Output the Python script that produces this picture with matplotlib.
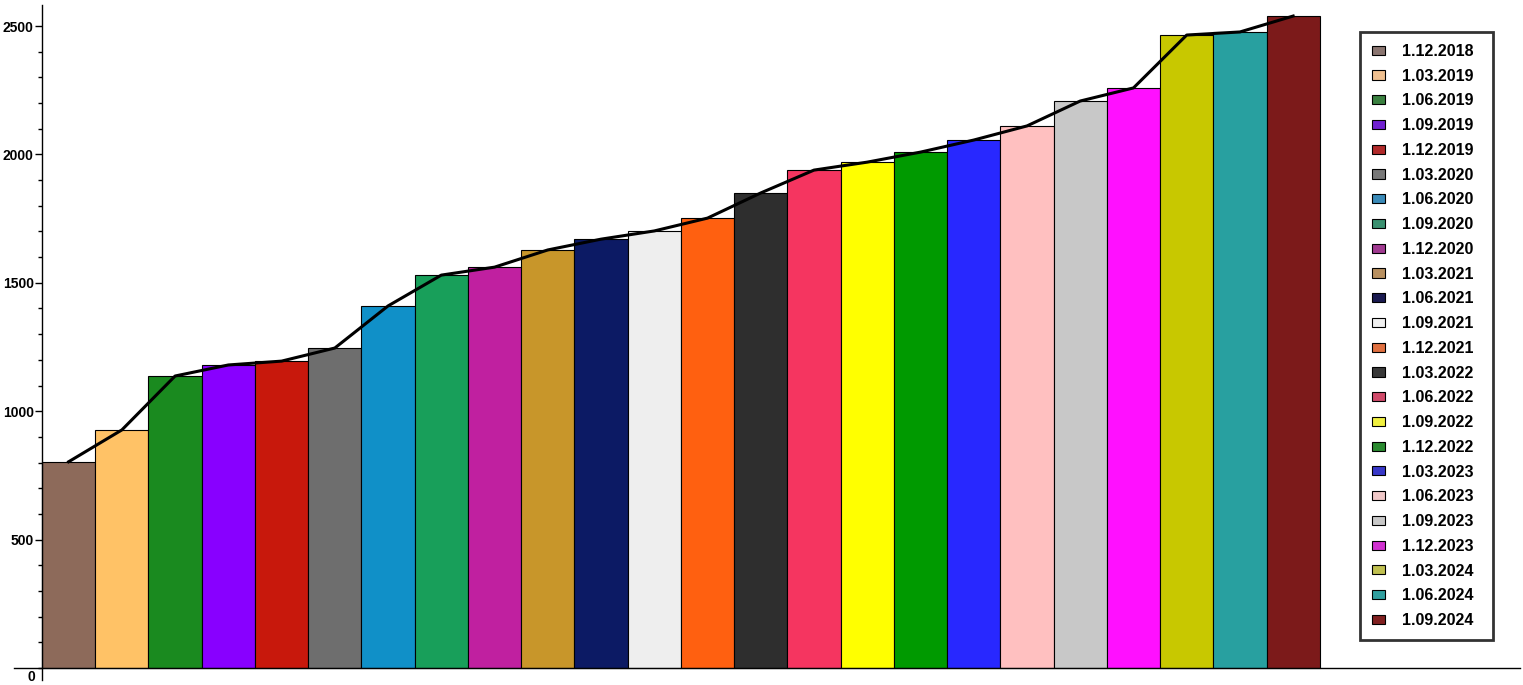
import matplotlib
matplotlib.use("Agg")
import matplotlib.pyplot as plt
from matplotlib.patches import Patch
from matplotlib.ticker import MultipleLocator

dates = ["1.12.2018", "1.03.2019", "1.06.2019", "1.09.2019", "1.12.2019", "1.03.2020",
         "1.06.2020", "1.09.2020", "1.12.2020", "1.03.2021", "1.06.2021", "1.09.2021",
         "1.12.2021", "1.03.2022", "1.06.2022", "1.09.2022", "1.12.2022", "1.03.2023",
         "1.06.2023", "1.09.2023", "1.12.2023", "1.03.2024", "1.06.2024", "1.09.2024"]
values = [803, 927, 1137, 1180, 1195, 1246, 1410, 1530, 1561, 1628, 1670, 1702,
          1752, 1850, 1939, 1970, 2009, 2056, 2111, 2208, 2259, 2465, 2477, 2539]
bar_colors = ["#8d6a5a", "#ffc266", "#1a8a1f", "#8800ff", "#c8180c", "#6e6e6e",
              "#1090c8", "#189f5a", "#c020a0", "#c8962a", "#0c1a64", "#eeeeee",
              "#ff6010", "#2e2e2e", "#f53560", "#ffff00", "#009a00", "#2828ff",
              "#ffc0c0", "#c8c8c8", "#ff10ff", "#c8c800", "#28a0a0", "#7c1a1a"]
legend_colors = ["#8a7570", "#f0c090", "#3a8040", "#7020d0", "#b02a2a", "#787878",
                 "#3a8ab8", "#3a9070", "#a03a90", "#b89060", "#1a1a50", "#f0f0f0",
                 "#e07040", "#383838", "#d04a6a", "#f0f040", "#2a8a30", "#3838c8",
                 "#f0c8c8", "#c8c8c8", "#d030d0", "#c0c050", "#30a0a0", "#802020"]

fig = plt.figure(figsize=(15.23, 6.85), dpi=100)
ax = fig.add_axes([14 / 1523, 5 / 685, (1520 - 14) / 1523, (680 - 5) / 685])

x = list(range(len(values)))
ax.bar(x, values, width=1.0, color=bar_colors, edgecolor="black", linewidth=0.8, zorder=2)
ax.plot(x, values, color="black", linewidth=2.2, zorder=3)

ax.set_ylim(-47, 2582)
ax.set_xlim(-1.026, 27.26)
ax.spines["top"].set_visible(False)
ax.spines["right"].set_visible(False)
ax.spines["bottom"].set_position(("data", 0))
ax.spines["left"].set_position(("data", -0.5))
ax.spines["left"].set_linewidth(1.0)
ax.spines["bottom"].set_linewidth(1.0)
ax.set_xticks([])
ax.set_yticks([500, 1000, 1500, 2000, 2500])
ax.yaxis.set_minor_locator(MultipleLocator(100))
ax.tick_params(axis="y", which="major", length=5, width=1, pad=1)
ax.tick_params(axis="y", which="minor", length=3, width=1)
tick_fam = ["Liberation Sans", "DejaVu Sans"]
for lab in ax.get_yticklabels():
    lab.set_fontfamily(tick_fam)
    lab.set_fontweight("bold")
    lab.set_fontsize(10)
ax.text(-0.63, -8, "0", ha="right", va="top", fontsize=10, fontweight="bold",
        family=tick_fam)

handles = [Patch(facecolor=c, edgecolor="black", linewidth=0.8) for c in legend_colors]
leg = ax.legend(handles, dates, loc="upper left",
                bbox_to_anchor=(1360 / 1523, 1 - 637 / 685, 133 / 1523, (637 - 32) / 685),
                bbox_transform=fig.transFigure, mode="expand", frameon=True, fancybox=False,
                prop={"family": ["Liberation Sans", "DejaVu Sans"], "size": 11.5, "weight": "bold"},
                handlelength=0.8, handleheight=0.5, handletextpad=1.06,
                labelspacing=0.61, borderpad=0.75, borderaxespad=0)
leg.get_frame().set_edgecolor("black")
leg.get_frame().set_linewidth(2)

fig.savefig("out.png", dpi=100)
